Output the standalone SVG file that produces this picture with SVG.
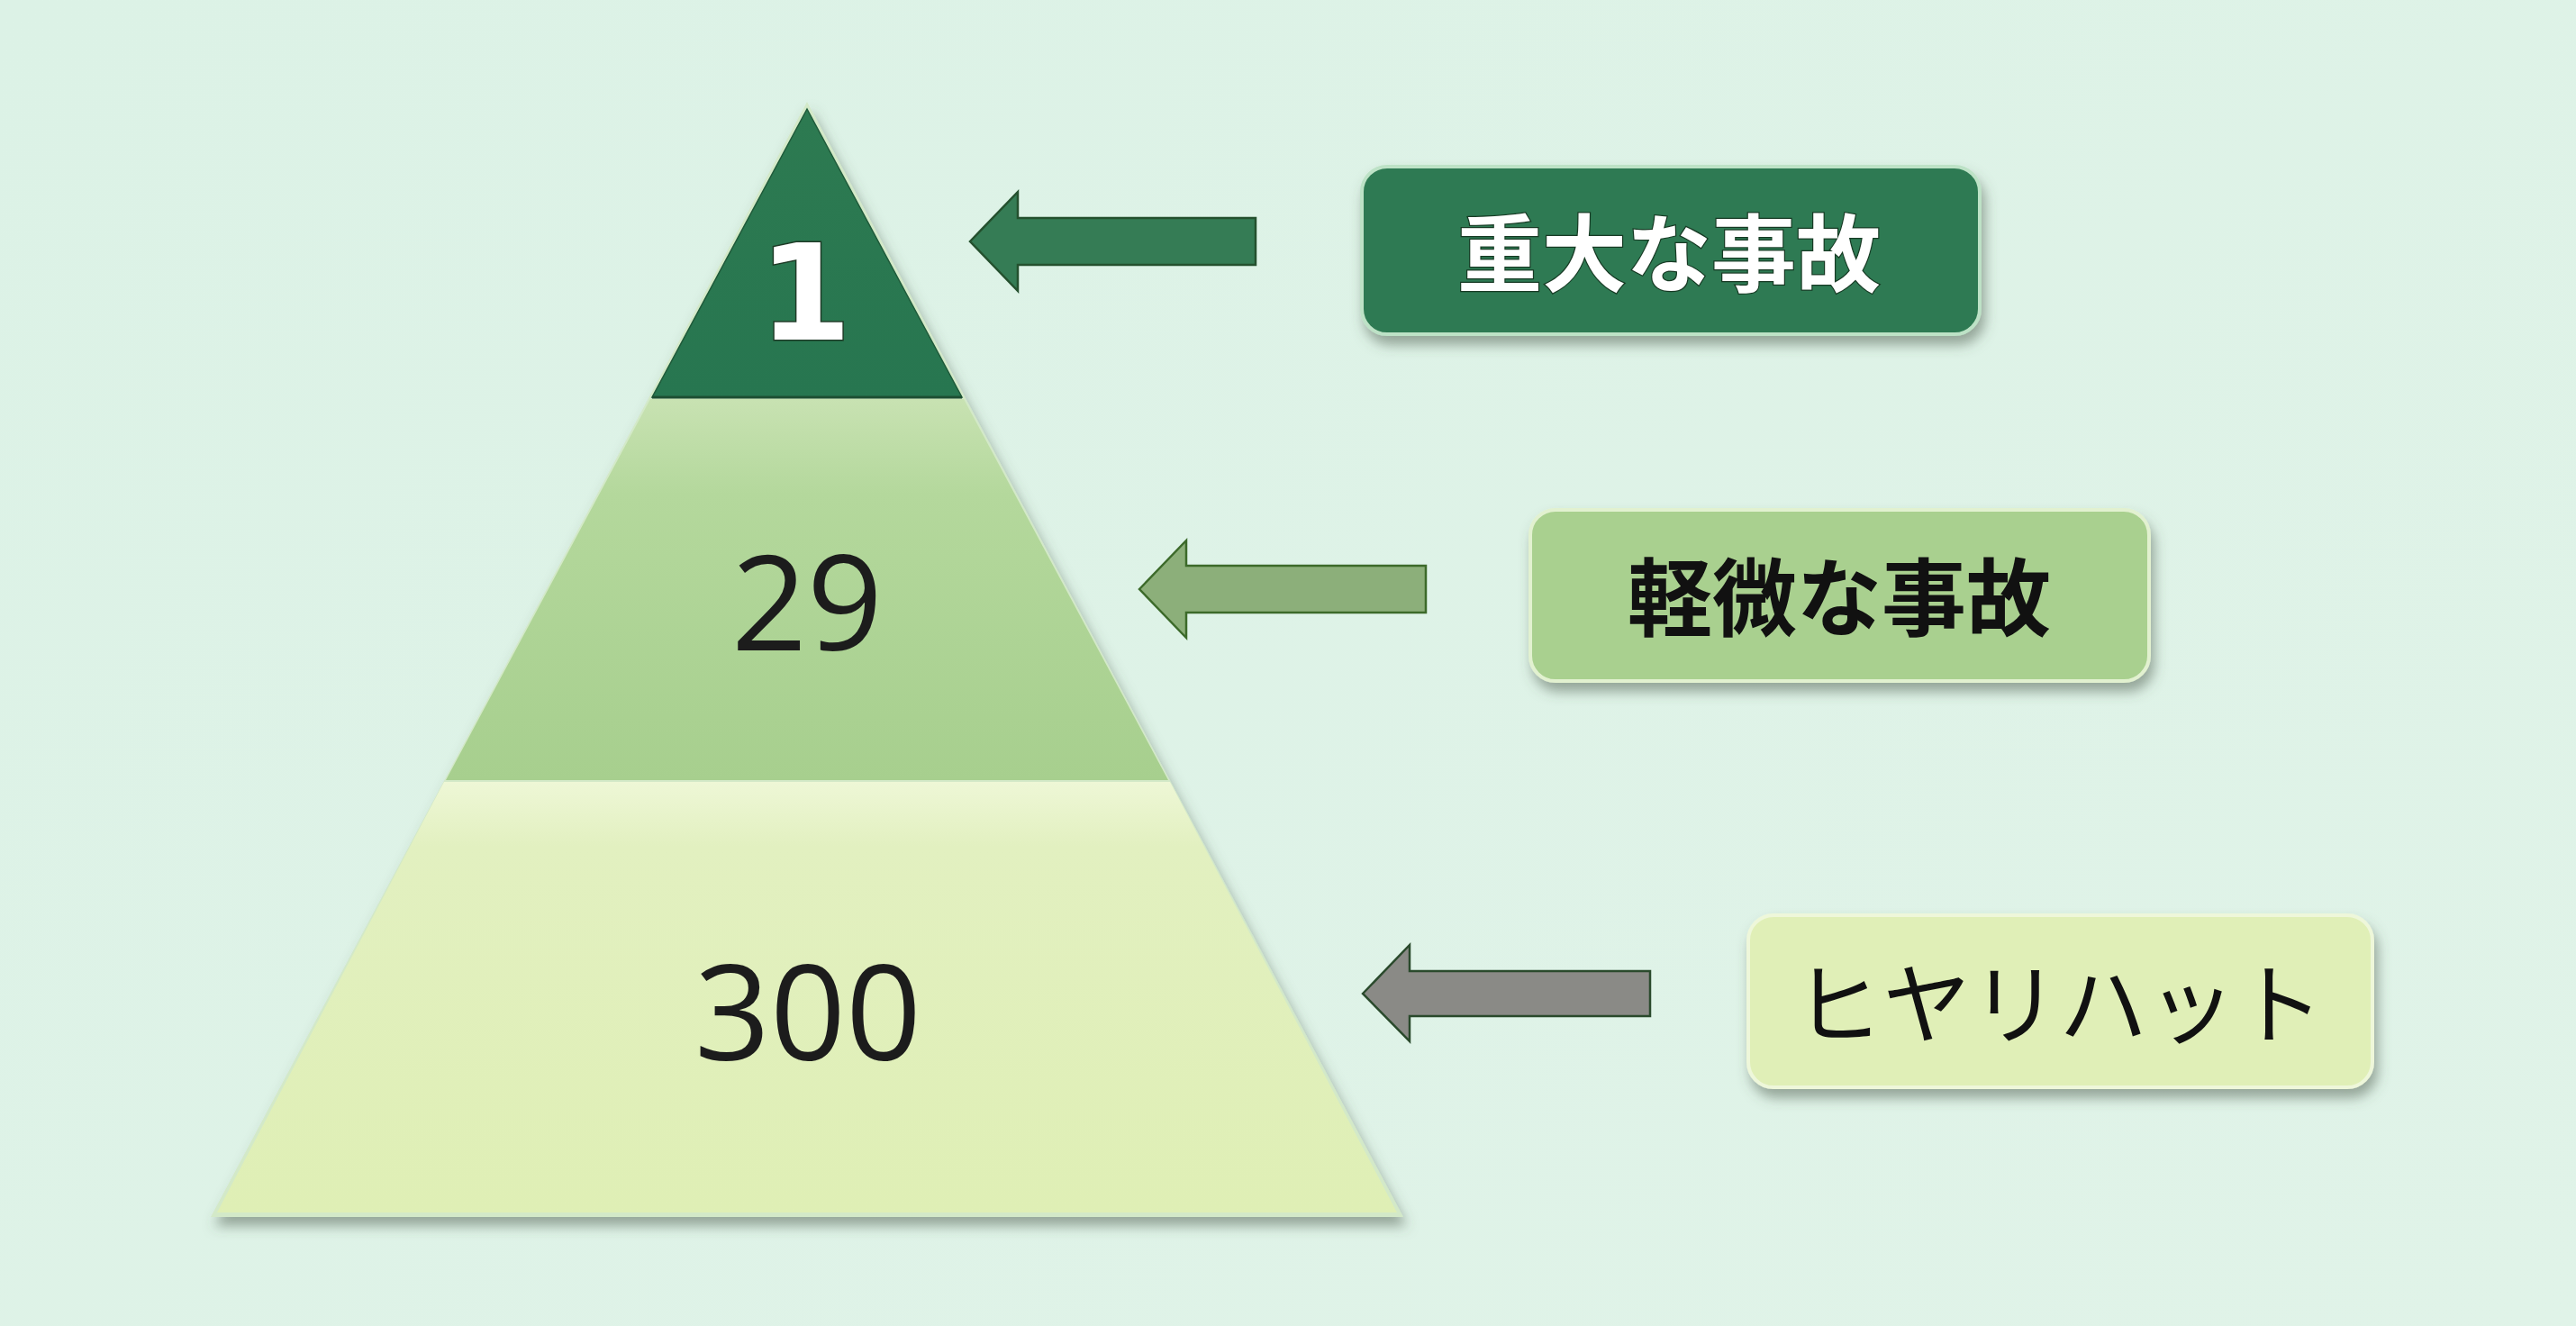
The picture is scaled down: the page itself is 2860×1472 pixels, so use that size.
<svg xmlns="http://www.w3.org/2000/svg" width="2860" height="1472" viewBox="0 0 2860 1472">
  <defs>
    <linearGradient id="bg" x1="0" y1="0" x2="1" y2="1">
      <stop offset="0" stop-color="#dcf2e6"/>
      <stop offset="1" stop-color="#e0f3e8"/>
    </linearGradient>
    <linearGradient id="gTop" x1="0" y1="0" x2="0" y2="1">
      <stop offset="0" stop-color="#2d7a51"/>
      <stop offset="1" stop-color="#277650"/>
    </linearGradient>
    <linearGradient id="gMid" x1="0" y1="0" x2="0" y2="1">
      <stop offset="0" stop-color="#c8e2b2"/>
      <stop offset="0.25" stop-color="#b4d89c"/>
      <stop offset="1" stop-color="#a7cf8e"/>
    </linearGradient>
    <linearGradient id="gBot" x1="0" y1="0" x2="0" y2="1">
      <stop offset="0" stop-color="#eef7d6"/>
      <stop offset="0.15" stop-color="#e2f0c0"/>
      <stop offset="1" stop-color="#dfefb5"/>
    </linearGradient>
    <filter id="shadow" x="-10%" y="-10%" width="120%" height="130%">
      <feDropShadow dx="4" dy="10" stdDeviation="7" flood-color="#4a5a4a" flood-opacity="0.5"/>
    </filter>
    <style>
      .num { font-family: "Open Sans", "Noto Sans", sans-serif; font-size: 147px; font-weight: 500; fill: #1c1c1c; text-anchor: middle; }
      .one { font-family: "DejaVu Sans", sans-serif; font-size: 148px; font-weight: 700; fill: #ffffff; stroke: #1e3a26; stroke-width: 3; paint-order: stroke; text-anchor: middle; }
      .lbl { font-family: "Noto Sans CJK JP", "Noto Sans", sans-serif; text-anchor: middle; dominant-baseline: central; }
      .arrow { stroke-width: 2.5; stroke-linejoin: miter; }
    </style>
  </defs>

  <rect x="0" y="0" width="2860" height="1472" fill="url(#bg)"/>

  <g id="pyramid" filter="url(#shadow)">
    <polygon points="896,113 1558,1351 234,1351" fill="#d3e9c8"/>
  </g>

  <g id="tier-top">
    <polygon points="896,121 1068,441 724,441" fill="url(#gTop)" stroke="#1f5a3a" stroke-width="1.5"/>
    <line x1="724" y1="441" x2="1068" y2="441" stroke="#1d4f32" stroke-width="3"/>
    <text class="one" x="894" y="377">1</text>
  </g>

  <g id="tier-mid">
    <polygon points="722,443 1070,443 1297,866 495,866" fill="url(#gMid)"/>
    <text class="num" x="896" y="722">29</text>
  </g>

  <g id="tier-bot">
    <polygon points="493,868 1299,868 1551,1346 241,1346" fill="url(#gBot)"/>
    <text class="num" x="897" y="1177">300</text>
  </g>

  <g id="connectors">
    <polygon class="arrow" points="1077,268 1130,213 1130,242 1394,242 1394,294 1130,294 1130,323" fill="#357c55" stroke="#24502e"/>
    <polygon class="arrow" points="1265,654 1317,600 1317,628 1583,628 1583,680 1317,680 1317,708" fill="#8caf7a" stroke="#3c6a2a"/>
    <polygon class="arrow" points="1513,1103 1565,1049 1565,1078 1832,1078 1832,1128 1565,1128 1565,1156" fill="#8a8a86" stroke="#2a4a2c"/>
  </g>

  <g id="label-major">
    <rect x="1512" y="185" width="686" height="186" rx="28" fill="#2f7a52" stroke="#bde2c6" stroke-width="4" filter="url(#shadow)"/>
    <text class="lbl" x="1853" y="276" font-size="94" font-weight="700" fill="#ffffff" stroke="#173a24" stroke-width="2.5" paint-order="stroke">重大な事故</text>
  </g>

  <g id="label-minor">
    <rect x="1699" y="566" width="687" height="190" rx="28" fill="#a9d08f" stroke="#e2f1d0" stroke-width="4" filter="url(#shadow)"/>
    <text class="lbl" x="2042" y="658" font-size="94" font-weight="700" fill="#111111">軽微な事故</text>
  </g>

  <g id="label-nearmiss">
    <rect x="1941" y="1016" width="693" height="191" rx="28" fill="#e0efb7" stroke="#eef7da" stroke-width="4" filter="url(#shadow)"/>
    <text class="lbl" x="2286" y="1108" font-size="98" font-weight="400" fill="#111111">ヒヤリハット</text>
  </g>
</svg>
